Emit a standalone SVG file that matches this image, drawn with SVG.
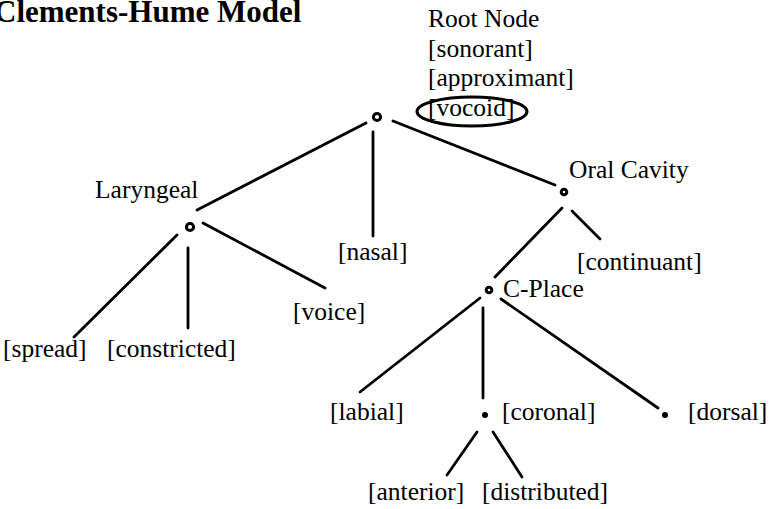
<svg xmlns="http://www.w3.org/2000/svg" width="778" height="509" viewBox="0 0 778 509">
<style>
text{font-family:"Liberation Serif","Times New Roman",serif;font-size:25.5px;fill:#000}
.title{font-weight:bold;font-size:31px}
.e{stroke:#000;stroke-width:2.8;fill:none;stroke-linecap:round}
.hd{fill:#fff;stroke:#000;stroke-width:3}
.sd{fill:#000}
</style>
<rect width="778" height="509" fill="#fff"/>
<text class="title" x="-6" y="22">Clements-Hume Model</text>
<g id="connectors">
<line class="e" x1="366" y1="123" x2="197" y2="210"/>
<line class="e" x1="373" y1="132" x2="373" y2="236"/>
<line class="e" x1="393" y1="121" x2="555" y2="185"/>
<line class="e" x1="177" y1="235" x2="74" y2="337"/>
<line class="e" x1="188" y1="248" x2="188" y2="328"/>
<line class="e" x1="203" y1="223" x2="325" y2="288"/>
<line class="e" x1="562" y1="208" x2="495" y2="277"/>
<line class="e" x1="572" y1="211" x2="600" y2="239"/>
<line class="e" x1="480" y1="298" x2="360" y2="392"/>
<line class="e" x1="483" y1="308" x2="483" y2="398"/>
<line class="e" x1="501" y1="299" x2="658" y2="408"/>
<line class="e" x1="477" y1="432" x2="447" y2="475"/>
<line class="e" x1="493" y1="432" x2="522" y2="477"/>
</g>
<g id="root">
<circle class="hd" cx="377" cy="117" r="3.6"/>
<text x="428" y="27">Root Node</text>
<text x="428" y="57">[sonorant]</text>
<text x="428" y="86">[approximant]</text>
<text x="428" y="116">[vocoid]</text>
<ellipse cx="472" cy="111.5" rx="55" ry="14.5" fill="none" stroke="#000" stroke-width="3"/>
</g>
<g id="laryngeal">
<circle class="hd" cx="190" cy="227" r="3.6"/>
<text x="95" y="198">Laryngeal</text>
</g>
<g id="nasal"><text x="338" y="260">[nasal]</text></g>
<g id="spread"><text x="3" y="357">[spread]</text></g>
<g id="constricted"><text x="107" y="357">[constricted]</text></g>
<g id="voice"><text x="293" y="320">[voice]</text></g>
<g id="oral-cavity">
<circle class="hd" cx="564" cy="192" r="2.8" stroke-width="2.4"/>
<text x="569" y="178">Oral Cavity</text>
</g>
<g id="continuant"><text x="577" y="270">[continuant]</text></g>
<g id="c-place">
<circle class="hd" cx="489" cy="290" r="2.8" stroke-width="2.4"/>
<text x="503" y="297">C-Place</text>
</g>
<g id="labial"><text x="330" y="420">[labial]</text></g>
<g id="coronal">
<circle class="sd" cx="485" cy="415" r="3"/>
<text x="502" y="420">[coronal]</text>
</g>
<g id="dorsal">
<circle class="sd" cx="665" cy="415" r="3"/>
<text x="688" y="420">[dorsal]</text>
</g>
<g id="anterior"><text x="368" y="500">[anterior]</text></g>
<g id="distributed"><text x="482" y="500">[distributed]</text></g>
</svg>
